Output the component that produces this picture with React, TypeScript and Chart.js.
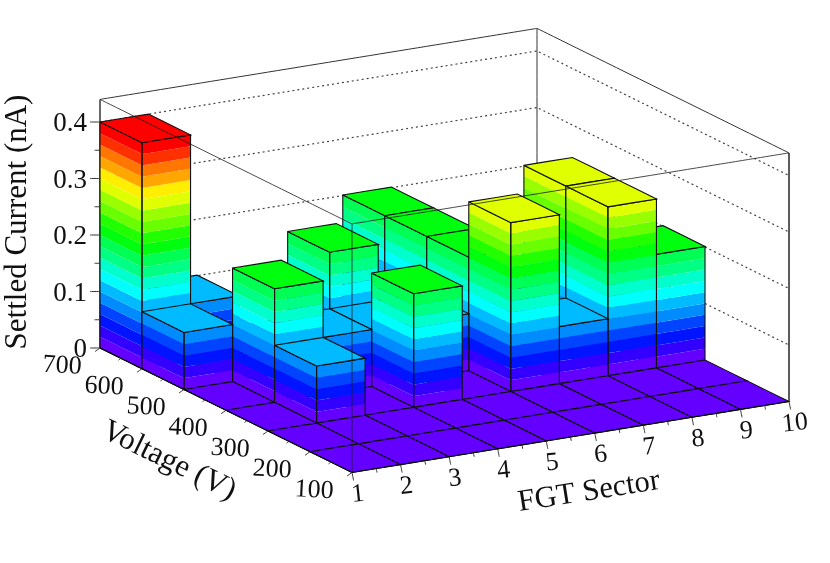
import React, { useEffect, useRef } from 'react';
import { Chart, registerables } from 'chart.js';

Chart.register(...registerables);

// bin edges
const sectorEdges = [1, 2, 3, 4, 5, 6, 7, 8, 9, 10];
const voltageEdges = [100, 200, 300, 400, 500, 600, 700];

// settled current (nA) per sector bin, one list per voltage bin
const current100 = [0, 0, 0, 0, 0, 0, 0, 0, 0];
const current200 = [0, 0, 0, 0, 0, 0, 0, 0, 0];
const current300 = [0, 0.101, 0, 0.201, 0, 0.299, 0.101, 0.299, 0.201];
const current400 = [0, 0.201, 0.101, 0.101, 0.101, 0.201, 0, 0.299, 0];
const current500 = [0.101, 0, 0, 0.201, 0, 0.201, 0, 0, 0];
const current600 = [0.4, 0.101, 0, 0, 0, 0.201, 0, 0, 0];
const currents = [current100, current200, current300, current400, current500, current600];

const currentTicks = [0, 0.1, 0.2, 0.3, 0.4];
const currentLabels = ['0', '0.1', '0.2', '0.3', '0.4'];
const currentMinorTicks = [0.05, 0.15, 0.25, 0.35];
const voltageTicks = [100, 200, 300, 400, 500, 600, 700];
const voltageMinorTicks = [150, 250, 350, 450, 550, 650];
const sectorTicks = [1, 2, 3, 4, 5, 6, 7, 8, 9, 10];
const sectorMinorTicks = [1.5, 2.5, 3.5, 4.5, 5.5, 6.5, 7.5, 8.5, 9.5];

const CURRENT_TOP = 0.44;
const BAND = 0.02;
// ROOT palette 1 hues for 20 contour levels
const levelHues = [263.2, 252, 235.2, 224, 207.2, 196, 179.2, 168, 151.2, 140, 123.2, 112, 95.2, 84, 67.2, 56, 39.2, 28, 11.2, 0];

const FONT = '"Liberation Serif"';

// fixed view of the box, sector 1 / 100 V / 0 nA is the near floor corner
const project = (sector: number, voltage: number, current: number) => ({
  x: 352 + (sector - 1) * 48.556 - (voltage - 100) * 0.42,
  y: 472.5 - (sector - 1) * 7.889 - (voltage - 100) * 0.2075 - current * 565,
});

const levelColor = (z: number) => {
  const level = Math.min(levelHues.length - 1, Math.floor(z / BAND));
  return `hsl(${levelHues[level]}, 100%, 50%)`;
};

type Pt = { x: number; y: number };

const polygon = (data: Pt[], color: string) => ({
  data: [...data, data[0]],
  showLine: true,
  fill: 'shape',
  backgroundColor: color,
  borderWidth: 0,
  borderColor: 'transparent',
  pointRadius: 0,
  // keeps chart.js off its x-column fast path, that one merges vertical edges
  tension: 0.00001,
});

const outline = (data: Pt[], color = '#111', width = 1.1, dash: number[] = []) => ({
  data,
  showLine: true,
  fill: false,
  borderColor: color,
  borderWidth: width,
  borderDash: dash,
  pointRadius: 0,
  tension: 0.00001,
});

const buildDatasets = () => {
  const sets: any[] = [];
  const vMin = voltageEdges[0];
  const vMax = voltageEdges[voltageEdges.length - 1];
  const sMin = sectorEdges[0];
  const sMax = sectorEdges[sectorEdges.length - 1];

  // back walls with their dotted grid
  currentTicks.slice(1).forEach((z) => {
    sets.push(outline([project(sMin, vMax, z), project(sMax, vMax, z), project(sMax, vMin, z)], '#444', 1.2, [2, 3]));
  });
  sets.push(outline([project(sMax, vMax, 0), project(sMax, vMax, CURRENT_TOP)], '#333', 1));
  sets.push(outline([project(sMin, vMax, CURRENT_TOP), project(sMax, vMax, CURRENT_TOP), project(sMax, vMin, CURRENT_TOP)], '#333', 1));
  sets.push(outline([project(sMin, vMax, 0), project(sMin, vMax, CURRENT_TOP)], '#444', 1.6));
  sets.push(outline([project(sMax, vMin, 0), project(sMax, vMin, CURRENT_TOP)], '#333', 1.6));

  // bars, far ones first
  for (let i = sectorEdges.length - 2; i >= 0; i--) {
    for (let j = voltageEdges.length - 2; j >= 0; j--) {
      const h = currents[j][i];
      const s0 = sectorEdges[i];
      const s1 = sectorEdges[i + 1];
      const v0 = voltageEdges[j];
      const v1 = voltageEdges[j + 1];
      if (h > 0) {
        for (let k = 0; k * BAND < h; k++) {
          const lo = k * BAND;
          const hi = Math.min(h, lo + BAND);
          const color = levelColor(lo);
          sets.push(polygon([project(s0, v1, lo), project(s0, v0, lo), project(s0, v0, hi), project(s0, v1, hi)], color));
          sets.push(polygon([project(s0, v0, lo), project(s1, v0, lo), project(s1, v0, hi), project(s0, v0, hi)], color));
        }
        sets.push(outline([project(s0, v1, 0), project(s0, v0, 0), project(s0, v0, h), project(s0, v1, h), project(s0, v1, 0)]));
        sets.push(outline([project(s0, v0, 0), project(s1, v0, 0), project(s1, v0, h), project(s0, v0, h), project(s0, v0, 0)]));
      }
      const top = [project(s0, v1, h), project(s0, v0, h), project(s1, v0, h), project(s1, v1, h)];
      sets.push(polygon(top, levelColor(h)));
      sets.push(outline([...top, top[0]]));
    }
  }

  // near edges of the box run over the bars
  sets.push(outline([project(sMin, vMin, 0), project(sMin, vMin, CURRENT_TOP)], 'rgba(30,30,30,0.8)', 1));
  sets.push(outline([project(sMin, vMax, CURRENT_TOP), project(sMin, vMin, CURRENT_TOP), project(sMax, vMin, CURRENT_TOP)], 'rgba(30,30,30,0.8)', 1));

  // axes and tick marks
  sets.push(outline([project(sMin, vMax, 0), project(sMin, vMin, 0), project(sMax, vMin, 0)], '#000', 1.2));
  const addTick = (p: Pt, dx: number, dy: number) => sets.push(outline([p, { x: p.x + dx, y: p.y + dy }], '#333', 1));
  currentTicks.forEach((z) => addTick(project(sMin, vMax, z), -10, 0));
  currentMinorTicks.forEach((z) => addTick(project(sMin, vMax, z), -5.5, 0));
  voltageTicks.forEach((v) => addTick(project(sMin, v, 0), -5, 3.5));
  voltageMinorTicks.forEach((v) => addTick(project(sMin, v, 0), -2.5, 1.8));
  sectorTicks.forEach((s) => addTick(project(s, vMin, 0), 1.6, 8));
  sectorMinorTicks.forEach((s) => addTick(project(s, vMin, 0), 0.8, 4));

  // chart.js paints the last dataset first
  return sets.reverse();
};

const drawText = (ctx: CanvasRenderingContext2D, text: string, x: number, y: number, size: number, angle = 0, align: CanvasTextAlign = 'center') => {
  ctx.save();
  ctx.translate(x, y);
  ctx.rotate((angle * Math.PI) / 180);
  ctx.font = `${size}px ${FONT}`;
  ctx.fillStyle = '#111';
  ctx.textAlign = align;
  ctx.textBaseline = 'middle';
  ctx.fillText(text, 0, 0);
  ctx.restore();
};

const axisText = {
  id: 'axisText',
  afterDatasetsDraw(chart: any) {
    const { ctx, scales } = chart;
    const at = (p: Pt, dx: number, dy: number) => [scales.x.getPixelForValue(p.x) + dx, scales.y.getPixelForValue(p.y) + dy];
    const vMax = voltageEdges[voltageEdges.length - 1];
    const vMin = voltageEdges[0];
    currentTicks.forEach((z, n) => {
      const [x, y] = at(project(1, vMax, z), -13, 2);
      drawText(ctx, currentLabels[n], x, y, 27, 0, 'right');
    });
    voltageTicks.forEach((v) => {
      const [x, y] = at(project(1, v, 0), -38, 18);
      drawText(ctx, String(v), x, y, 26, 3);
    });
    sectorTicks.forEach((s) => {
      const [x, y] = at(project(s, vMin, 0), 6, 22);
      drawText(ctx, String(s), x, y, 26, -6);
    });
    drawText(ctx, 'Settled Current (nA)', 18, 222, 31, -90);
    drawText(ctx, 'Voltage (V)', 169, 461, 31, 26);
    drawText(ctx, 'FGT Sector', 589, 492, 30.5, -9);
  },
};

const App: React.FC = () => {
  const canvasRef = useRef<HTMLCanvasElement>(null);

  useEffect(() => {
    if (!canvasRef.current) return;
    const chart = new Chart(canvasRef.current, {
      type: 'scatter',
      data: { datasets: buildDatasets() },
      options: {
        animation: false,
        responsive: false,
        layout: { padding: 0 },
        plugins: { legend: { display: false }, tooltip: { enabled: false } },
        scales: {
          x: { type: 'linear', min: 0, max: 830, display: false },
          y: { type: 'linear', min: 0, max: 563, reverse: true, display: false },
        },
      },
      plugins: [axisText],
    });
    return () => chart.destroy();
  }, []);

  return (
    <div style={{ position: 'fixed', left: 0, top: 0, width: 830, height: 563, background: '#fff' }}>
      <canvas ref={canvasRef} width={830} height={563} style={{ display: 'block' }} />
    </div>
  );
};

export default App;
